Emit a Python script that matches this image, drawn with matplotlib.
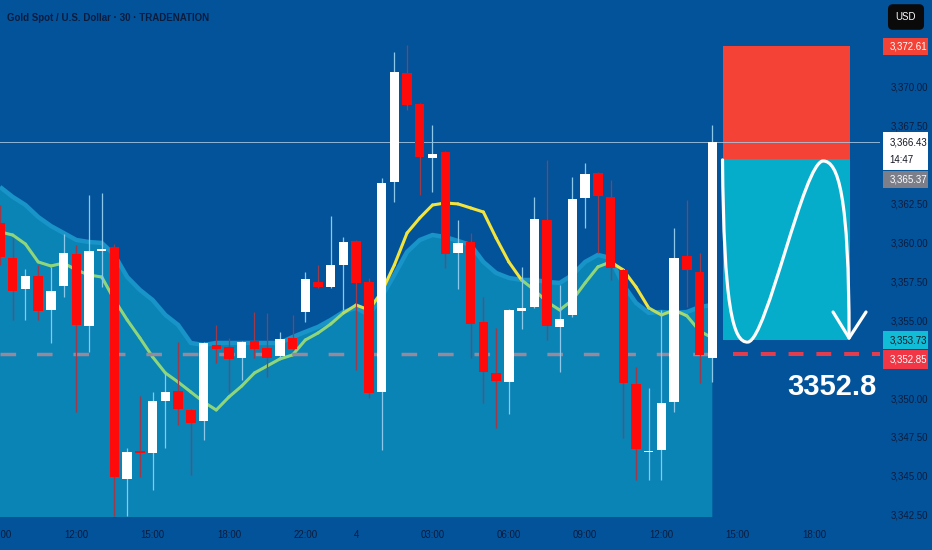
import matplotlib
matplotlib.use('Agg')
import matplotlib.pyplot as plt
import numpy as np
from matplotlib.patches import Rectangle, PathPatch
from matplotlib.path import Path
from matplotlib.collections import LineCollection
import matplotlib.transforms as mtransforms
from matplotlib.colors import to_rgb

plt.rcParams['font.family'] = ['Liberation Sans', 'DejaVu Sans']

# ---------------- data (30-minute candles) ----------------
opens = [3361.25, 3359.00, 3357.01, 3357.85, 3355.66, 3357.20, 3359.26, 3354.63, 3359.45, 3359.71,
         3344.79, 3346.59, 3346.47, 3349.81, 3350.45, 3349.23, 3348.52, 3353.41, 3353.28, 3352.57,
         3353.67, 3353.22, 3352.70, 3353.86, 3355.53, 3357.46, 3357.14, 3358.55, 3360.10, 3357.46,
         3350.39, 3363.89, 3370.90, 3368.91, 3365.43, 3365.82, 3359.33, 3360.03, 3354.89, 3351.61,
         3351.03, 3355.60, 3355.85, 3361.45, 3354.57, 3355.34, 3362.86, 3364.47, 3362.93, 3358.23,
         3350.90, 3346.50, 3346.66, 3349.75, 3359.13, 3358.10, 3352.57]
highs = [3362.41, 3360.29, 3358.30, 3358.55, 3358.43, 3360.55, 3359.84, 3363.06, 3363.18, 3359.90,
         3346.79, 3350.13, 3350.39, 3351.61, 3353.60, 3349.30, 3353.60, 3354.70, 3353.86, 3353.65,
         3355.53, 3355.47, 3354.25, 3355.34, 3358.10, 3358.55, 3361.71, 3360.35, 3360.15, 3357.72,
         3364.15, 3372.25, 3372.70, 3368.95, 3367.56, 3365.85, 3361.45, 3360.61, 3356.50, 3354.50,
         3355.70, 3358.43, 3362.93, 3365.31, 3357.27, 3364.21, 3365.11, 3364.50, 3364.02, 3358.30,
         3352.00, 3350.65, 3355.66, 3360.93, 3362.73, 3359.33, 3367.56]
lows = [3358.55, 3355.02, 3355.02, 3355.02, 3353.54, 3356.50, 3349.10, 3352.96, 3357.14, 3342.40,
        3342.40, 3344.92, 3344.09, 3346.79, 3348.27, 3345.05, 3347.30, 3352.25, 3350.39, 3351.16,
        3352.57, 3351.35, 3352.57, 3353.09, 3354.89, 3357.10, 3357.08, 3355.66, 3351.80, 3350.00,
        3346.66, 3362.61, 3368.52, 3363.06, 3363.25, 3358.36, 3357.01, 3352.57, 3349.68, 3348.07,
        3348.97, 3354.44, 3355.80, 3353.73, 3351.67, 3355.21, 3360.93, 3359.33, 3357.59, 3347.43,
        3344.73, 3344.73, 3344.73, 3349.10, 3355.85, 3350.97, 3351.03]
closes = [3359.07, 3356.88, 3357.85, 3355.60, 3356.88, 3359.33, 3354.70, 3359.45, 3359.52, 3344.92,
          3346.53, 3346.47, 3349.81, 3350.39, 3349.30, 3348.40, 3353.54, 3353.15, 3352.51, 3353.60,
          3353.15, 3352.57, 3353.80, 3353.15, 3357.65, 3357.14, 3358.55, 3360.03, 3357.40, 3350.32,
          3363.83, 3370.96, 3368.84, 3365.50, 3365.69, 3359.26, 3359.97, 3354.76, 3351.67, 3351.10,
          3355.66, 3355.79, 3361.51, 3354.63, 3355.08, 3362.80, 3364.41, 3362.99, 3358.36, 3350.97,
          3346.72, 3346.55, 3349.68, 3359.00, 3358.23, 3352.77, 3366.43]

# moving average line and upper edge of the shaded band
ma_line = [3360.68, 3360.48, 3359.90, 3358.75, 3358.49, 3358.68, 3358.23, 3357.91, 3357.78, 3356.30,
           3355.02, 3353.86, 3352.64, 3351.61, 3351.03, 3350.39, 3349.75, 3349.23, 3350.07, 3350.77,
           3351.61, 3352.06, 3352.51, 3352.77, 3353.73, 3354.18, 3354.76, 3355.47, 3355.98, 3355.66,
           3356.82, 3358.55, 3360.61, 3361.58, 3362.41, 3362.54, 3362.48, 3362.22, 3361.96, 3360.29,
           3358.75, 3357.59, 3356.95, 3356.18, 3355.66, 3356.30, 3357.40, 3358.43, 3358.75, 3358.23,
           3357.14, 3355.79, 3355.34, 3355.66, 3355.28, 3354.31, 3353.86]
band_top = [3363.57, 3362.93, 3362.41, 3361.64, 3361.06, 3360.61, 3360.16, 3360.03, 3359.97, 3359.20,
            3357.78, 3356.95, 3356.30, 3355.34, 3354.70, 3353.54, 3353.41, 3353.54, 3353.54, 3353.54,
            3353.54, 3353.54, 3353.54, 3353.92, 3354.25, 3354.57, 3355.02, 3355.53, 3355.79, 3355.34,
            3356.50, 3357.91, 3359.39, 3360.16, 3360.48, 3360.35, 3360.10, 3359.84, 3358.75, 3358.04,
            3357.72, 3357.59, 3357.59, 3357.46, 3357.40, 3357.91, 3358.75, 3359.20, 3359.00, 3357.27,
            3356.11, 3355.47, 3355.53, 3355.47, 3355.53, 3355.85, 3355.98]

x_tick_pos = [0, 6, 12, 18, 24, 28, 34, 40, 46, 52, 58, 64]
x_tick_labels = ["09:00", "12:00", "15:00", "18:00", "22:00", "4", "03:00", "06:00",
                 "09:00", "12:00", "15:00", "18:00"]
y_ticks = [3342.5, 3345.0, 3347.5, 3350.0, 3355.0, 3357.5, 3360.0, 3362.5, 3367.5, 3370.0]

title_text = "Gold Spot / U.S. Dollar \u00b7 30 \u00b7 TRADENATION"
last_price = 3366.43
countdown = "14:47"
stop_price = 3372.61
entry_price = 3365.37
tp_price = 3353.73
target_price = 3352.85
target_label = "3352.8"

# ---------------- styling ----------------
BG = '#03539b'
FILL = '#0a83b5'
EDGE = '#1894c9'
TXT = '#0c1c3c'
RED = '#ff0a0a'
FS = 7.0

fig = plt.figure(figsize=(9.32, 5.5), dpi=100)
fig.patch.set_facecolor(BG)
ax = fig.add_axes([0, 33 / 550, 880 / 932, 517 / 550])
ax.set_facecolor(BG)
for s in ax.spines.values():
    s.set_visible(False)

x = np.arange(len(opens))
o = np.array(opens); c = np.array(closes); h = np.array(highs); l = np.array(lows)
ma = np.array(ma_line); bt = np.array(band_top)

ax.set_xlim(0.055, 69.18)
ax.set_ylim(3342.35, 3375.59)

# shaded band
ax.fill_between(x, bt, 3300, color=FILL, lw=0, zorder=1)
ax.plot(x, bt, color=EDGE, lw=3.2, zorder=1.2, solid_capstyle='butt')

# moving average with green/yellow colouring
green = np.array(to_rgb('#8fd67a')); yellow = np.array(to_rgb('#f2e43c'))
pts = np.column_stack([x, ma])
segs = np.stack([pts[:-1], pts[1:]], axis=1)
d = ((ma - bt)[:-1] + (ma - bt)[1:]) / 2
t = np.clip((d + 0.2) / 0.6, 0, 1)[:, None]
cols = green * (1 - t) + yellow * t
ax.add_collection(LineCollection(segs, colors=cols, linewidths=2.2, capstyle='round',
                                 joinstyle='round', zorder=2.5))

# trade box
box_left, box_w = 56.8, 10.0
ax.add_patch(Rectangle((box_left, entry_price), box_w, stop_price - entry_price,
                       fc='#f44336', ec='none', zorder=2))
ax.add_patch(Rectangle((box_left, tp_price), box_w, entry_price - tp_price,
                       fc='#05adca', ec='none', zorder=2))

# lines
ax.axhline(last_price, color='#a9c6e2', lw=0.7, alpha=0.85, zorder=3)
ax.hlines(target_price, x[0], x[-1], colors='#948a9c', lw=2.5,
          linestyles=[(0, (4.5, 6.0))], zorder=2.8)
ax.hlines(target_price, box_left + 0.8, 69.18, colors='#e23d4f', lw=2.9,
          linestyles=[(0, (3.7, 3.2))], zorder=2.8)

# candles
up = c >= o
body_col = np.where(up, '#ffffff', RED)
wick_col = np.where(up, '#8cc8ea', '#9a3a4a')
ax.vlines(x, l, h, colors=wick_col, lw=0.9, zorder=3.5)
bottoms = np.minimum(o, c)
heights = np.maximum(np.abs(c - o), 0.12)
ax.bar(x, heights, bottom=bottoms, width=0.74, color=body_col, lw=0, zorder=4)

# path drawing
verts = [(56.8, 3365.31),
         (56.9, 3356.0), (57.6, 3353.5), (58.81, 3353.6),
         (60.3, 3353.8), (63.2, 3365.24), (64.71, 3365.24),
         (65.9, 3365.24), (66.75, 3363.0), (66.75, 3353.86)]
codes = [Path.MOVETO] + [Path.CURVE4] * 9
ax.add_patch(PathPatch(Path(verts, codes), fill=False, ec='white', lw=2.3,
                       capstyle='round', joinstyle='round', zorder=5))
ax.plot([65.49, 66.75, 68.08], [3355.53, 3353.86, 3355.53], color='white', lw=2.3,
        solid_capstyle='round', solid_joinstyle='round', zorder=5)
ax.text(65.4, 3350.71, target_label, color='white', fontsize=21, fontweight='bold',
        ha='center', va='center', zorder=6)

# title
ax.text(7 / 880, 1 - 18 / 517, title_text, transform=ax.transAxes, color=TXT,
        fontsize=7.0, fontweight='bold', ha='left', va='center', zorder=6)

# axes ticks
ax.set_xticks(x_tick_pos)
ax.set_xticklabels(x_tick_labels)
ax.yaxis.tick_right()
ax.set_yticks(y_ticks)
ax.set_yticklabels([f"{v:,.2f}" for v in y_ticks])
ax.tick_params(axis='x', length=0, pad=9, labelsize=FS, labelcolor=TXT)
ax.tick_params(axis='y', length=0, pad=8, labelsize=FS, labelcolor=TXT)

# price tags on the right
trans = mtransforms.blended_transform_factory(ax.transAxes, ax.transData)
px = 1 / 15.55  # price units per pixel


def tag(center, text, face, tcolor, hpx=18):
    ax.add_patch(Rectangle((1.003, center - hpx * px / 2), 0.052, hpx * px,
                           transform=trans, fc=face, ec='none', clip_on=False, zorder=7))
    ax.text(1.0105, center, text, transform=trans, color=tcolor, fontsize=FS,
            ha='left', va='center', zorder=8, clip_on=False)


tag(stop_price, f"{stop_price:,.2f}", '#f44336', 'white', hpx=17)
# white last-price tag with countdown
ax.add_patch(Rectangle((1.003, last_price - 28 * px), 0.052, 38 * px, transform=trans,
                       fc='white', ec='none', clip_on=False, zorder=7))
ax.text(1.0105, last_price, f"{last_price:,.2f}", transform=trans, color='#131722',
        fontsize=FS, ha='left', va='center', zorder=8)
ax.text(1.0105, last_price - 18 * px, countdown, transform=trans, color='#131722',
        fontsize=FS, ha='left', va='center', zorder=8)
tag(last_price - 37 * px, f"{entry_price:,.2f}", '#7c7f8a', 'white', hpx=17)
tag(tp_price, f"{tp_price:,.2f}", '#10bcd6', '#131722', hpx=17)
tag(tp_price - 19 * px, f"{target_price:,.2f}", '#f23645', 'white', hpx=19)

fig.text(906 / 932, 1 - 17 / 550, "USD", color='white', fontsize=FS, ha='center', va='center',
         bbox=dict(boxstyle='round,pad=0.8,rounding_size=0.5', fc='#0a0a0a', ec='none'))

fig.savefig('out.png', dpi=100, facecolor=BG)
